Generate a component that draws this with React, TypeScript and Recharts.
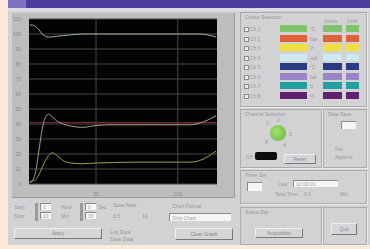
import { LineChart, Line, XAxis, YAxis, CartesianGrid } from "recharts";

// sample times (s) shared by all traces
const time = [9.5, 11, 13, 15, 17, 19, 21, 23, 26, 30, 35, 42, 50, 60, 70, 80, 90, 100, 108, 113, 118, 123.5];
const upper = [106, 106, 105, 103, 100, 98.5, 98, 98, 98.5, 99, 99.5, 100, 100, 100, 100, 100, 100, 100, 100, 100, 99.5, 98];
const middle = [1, 2, 8, 22, 36, 44.5, 46.5, 45, 42, 40, 38.5, 37.8, 39, 39.5, 39.5, 39.5, 39.5, 39.5, 39.5, 40.5, 42.5, 45.5];
const lower = [1.5, 2, 3, 6, 11, 15.5, 19, 20.8, 19, 15.5, 14, 13.5, 14, 14.3, 14.5, 14.6, 14.6, 14.6, 14.6, 15.5, 18, 22];
const setpoint = [41, 41, 41, 41, 41, 41, 41, 41, 41, 41, 41, 41, 41, 41, 41, 41, 41, 41, 41, 41, 41, 41];

const yTicks = [0, 10, 20, 30, 40, 50, 60, 70, 80, 90, 100, 110];
const xTicks = [50, 100];

const channelNames = ["Ch 1", "Ch 2", "Ch 3", "Ch 4", "Ch 5", "Ch 6", "Ch 7", "Ch 8"];
const channelColors = ["#7fc46c", "#e0623a", "#f0df3c", "#cfe9f2", "#2b3a82", "#9c84c8", "#229f9f", "#5e2270"];
const channelUnits = ["°C", "bar", "V", "mA", "°C", "bar", "V", "%"];

const data = time.map((t, i) => ({
  t,
  upper: upper[i],
  middle: middle[i],
  lower: lower[i],
  setpoint: setpoint[i],
}));

const label = "#98989a";

function Box({ x, y, w, h, title }: { x: number; y: number; w: number; h: number; title?: string }) {
  return (
    <div
      style={{
        position: "absolute",
        left: x,
        top: y,
        width: w,
        height: h,
        border: "1px solid #acacae",
        boxShadow: "1px 1px 0 #ececec",
      }}
    >
      {title && (
        <span style={{ position: "absolute", left: 4, top: 1, fontSize: 5, color: label, whiteSpace: "nowrap" }}>
          {title}
        </span>
      )}
    </div>
  );
}

function Btn({ x, y, w, h, text }: { x: number; y: number; w: number; h: number; text: string }) {
  return (
    <div
      style={{
        position: "absolute",
        left: x,
        top: y,
        width: w,
        height: h,
        background: "#d6d6d8",
        borderRight: "1px solid #78787a",
        borderBottom: "1px solid #78787a",
        borderTop: "1px solid #f0f0f0",
        borderLeft: "1px solid #f0f0f0",
        fontSize: 5,
        color: "#88888a",
        textAlign: "center",
        lineHeight: `${h}px`,
      }}
    >
      {text}
    </div>
  );
}

function Txt({ x, y, text }: { x: number; y: number; text: string }) {
  return (
    <span style={{ position: "absolute", left: x, top: y, fontSize: 5, color: label, whiteSpace: "nowrap" }}>
      {text}
    </span>
  );
}

function Field({ x, y, w, h, text }: { x: number; y: number; w: number; h: number; text?: string }) {
  return (
    <div
      style={{
        position: "absolute",
        left: x,
        top: y,
        width: w,
        height: h,
        background: "#f6f6f6",
        borderTop: "1px solid #8a8a8a",
        borderLeft: "1px solid #8a8a8a",
        fontSize: 5,
        color: "#a4a4a4",
        lineHeight: `${h}px`,
        paddingLeft: 2,
        boxSizing: "border-box",
      }}
    >
      {text}
    </div>
  );
}

export default function App() {
  return (
    <div
      style={{
        position: "fixed",
        left: 0,
        top: 0,
        width: 370,
        height: 249,
        background: "#fcebd9",
        overflow: "hidden",
        fontFamily: "'Liberation Sans', Arial, sans-serif",
      }}
    >
      {/* title bar */}
      <div style={{ position: "absolute", left: 8, top: 0, width: 362, height: 8, background: "#4c3f9b" }} />
      <div style={{ position: "absolute", left: 8, top: 0, width: 18, height: 8, background: "#7d70c0" }} />

      {/* main panel */}
      <div style={{ position: "absolute", left: 8, top: 8, width: 362, height: 237, background: "#d2d2d4" }} />
      <div style={{ position: "absolute", left: 8, top: 8, width: 362, height: 3, background: "#dcdce6" }} />

      {/* chart frame */}
      <div
        style={{
          position: "absolute",
          left: 12,
          top: 13,
          width: 222,
          height: 184,
          background: "#bdbdbf",
          borderRight: "1px solid #9a9a9c",
          borderBottom: "1px solid #9a9a9c",
        }}
      />
      <div style={{ position: "absolute", left: 0, top: 0 }}>
        <LineChart width={235} height={200} data={data} margin={{ top: 19, right: 18, bottom: 4, left: 9 }}>
          <CartesianGrid fill="#030305" stroke="#48484b" strokeWidth={1} horizontalValues={yTicks} verticalValues={xTicks} />
          <XAxis
            dataKey="t"
            type="number"
            domain={[9, 124]}
            ticks={xTicks}
            tick={{ fontSize: 5, fill: "#88888b" }}
            tickLine={false}
            axisLine={false}
            height={12}
            interval={0}
          />
          <YAxis
            type="number"
            domain={[0, 110]}
            ticks={yTicks}
            tick={{ fontSize: 5, fill: "#88888b" }}
            tickLine={false}
            axisLine={false}
            width={20}
            interval={0}
          />
          <Line dataKey="setpoint" stroke="#7e2230" strokeWidth={1} dot={false} isAnimationActive={false} />
          <Line type="monotone" dataKey="upper" stroke="#9cb694" strokeWidth={1} dot={false} isAnimationActive={false} />
          <Line type="monotone" dataKey="middle" stroke="#aa9e86" strokeWidth={1} dot={false} isAnimationActive={false} />
          <Line type="monotone" dataKey="lower" stroke="#98a240" strokeWidth={1} dot={false} isAnimationActive={false} />
        </LineChart>
      </div>

      {/* controls under the chart */}
      <Txt x={14} y={204} text="Start" />
      <Txt x={14} y={213} text="Stop" />
      <div style={{ position: "absolute", left: 35, top: 203, width: 3, height: 18, background: "#9a9a9c" }} />
      <Field x={40} y={203} w={11} h={7} text="0" />
      <Field x={40} y={212} w={11} h={7} text="10" />
      <Txt x={61} y={204} text="Hour" />
      <Txt x={61} y={213} text="Min" />
      <div style={{ position: "absolute", left: 80, top: 203, width: 3, height: 18, background: "#9a9a9c" }} />
      <Field x={85} y={203} w={11} h={7} text="0" />
      <Field x={85} y={212} w={11} h={7} text="30" />
      <Txt x={98} y={204} text="Sec" />
      <Btn x={14} y={228} w={86} h={9} text="Apply" />

      <Txt x={113} y={202} text="Save Rate" />
      <Txt x={113} y={213} text="0.5" />
      <Txt x={142} y={213} text="10" />
      <Txt x={110} y={229} text="Log Data" />
      <Txt x={110} y={236} text="Save Data" />

      <Txt x={172} y={203} text="Chart Format" />
      <Field x={169} y={213} w={62} h={8} text="Strip Chart" />
      <Btn x={175} y={228} w={56} h={10} text="Clear Graph" />

      {/* colour selection */}
      <Box x={240} y={12} w={125} h={93} title="Colour Selection" />
      <Txt x={324} y={18} text="Active" />
      <Txt x={347} y={18} text="Limit" />
      {channelNames.map((n, i) => (
        <div key={n}>
          <div
            style={{
              position: "absolute",
              left: 244,
              top: 27 + i * 9.5,
              width: 3,
              height: 3,
              border: "1px solid #8a8a8c",
              background: "#ececec",
            }}
          />
          <Txt x={250} y={26 + i * 9.5} text={n} />
          <div style={{ position: "absolute", left: 280, top: 25 + i * 9.5, width: 27, height: 7, background: channelColors[i] }} />
          <Txt x={310} y={26 + i * 9.5} text={channelUnits[i]} />
          <div style={{ position: "absolute", left: 323, top: 25 + i * 9.5, width: 19, height: 7, background: channelColors[i] }} />
          <div style={{ position: "absolute", left: 346, top: 25 + i * 9.5, width: 13, height: 7, background: channelColors[i] }} />
        </div>
      ))}

      {/* channel selection */}
      <Box x={240} y={109} w={80} h={57} title="Channel Selection" />
      <div
        style={{
          position: "absolute",
          left: 270,
          top: 125,
          width: 16,
          height: 16,
          borderRadius: "50%",
          background: "radial-gradient(circle at 40% 40%, #a8e070, #5eb838)",
        }}
      />
      <Txt x={277} y={117} text="2" />
      <Txt x={289} y={131} text="3" />
      <Txt x={266} y={120} text="1" />
      <Txt x={265} y={139} text="8" />
      <Txt x={283} y={142} text="4" />
      <div style={{ position: "absolute", left: 255, top: 152, width: 22, height: 8, background: "#0c0c0c", borderRadius: 2 }} />
      <Txt x={246} y={154} text="Off" />
      <Btn x={284} y={154} w={30} h={8} text="Reset" />

      {/* data save */}
      <Box x={323} y={109} w={42} h={57} title="Data Save" />
      <Field x={341} y={121} w={15} h={8} />
      <Txt x={335} y={146} text="File" />
      <Txt x={335} y={154} text="Append" />

      {/* timer set */}
      <Box x={240} y={170} w={125} h={32} title="Timer Set" />
      <Field x={247} y={182} w={15} h={9} />
      <Txt x={278} y={181} text="Last" />
      <Field x={293} y={180} w={45} h={7} text="12:00:00" />
      <Txt x={275} y={191} text="Total Time" />
      <Txt x={304} y={191} text="0.0" />
      <Txt x={340} y={191} text="Min" />

      {/* status bar / quit */}
      <Box x={240} y={207} w={80} h={36} title="Status Bar" />
      <Btn x={255} y={228} w={46} h={8} text="Acquisition" />
      <Box x={323} y={207} w={42} h={36} />
      <Btn x={331} y={223} w={24} h={10} text="Quit" />
    </div>
  );
}
